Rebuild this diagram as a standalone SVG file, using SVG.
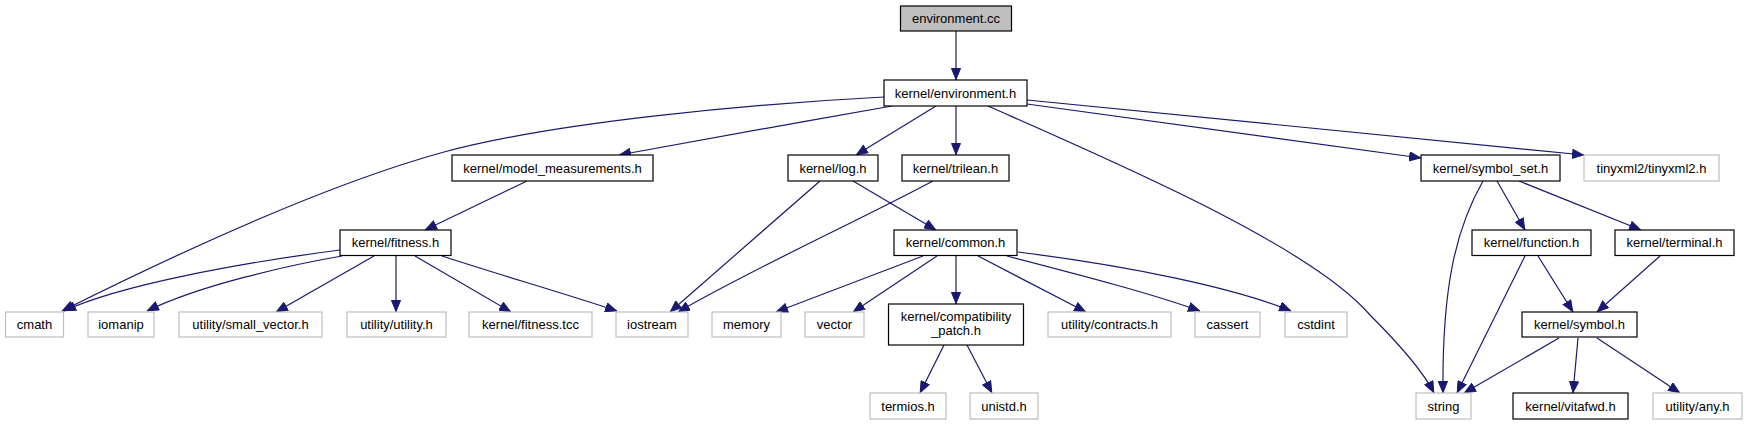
<svg xmlns="http://www.w3.org/2000/svg" width="1747" height="425" viewBox="0 0 1747 425">
<defs>
<style>
.n rect{fill:#fff;stroke:#000;stroke-width:1.2}
.g rect{fill:#fff;stroke:#bfbfbf;stroke-width:1.2}
.r rect{fill:#bfbfbf;stroke:#000;stroke-width:1.2}
text{font-family:"Liberation Sans",Arial,sans-serif;font-size:13px;text-anchor:middle;fill:#000}
.e path{fill:none;stroke:#191970;stroke-width:1.2;marker-end:url(#ah)}
</style>
<marker id="ah" markerUnits="userSpaceOnUse" markerWidth="12" markerHeight="10" viewBox="0 0 12 10" refX="12" refY="5" orient="auto">
<path d="M0.5,0.5 L11.5,5 L0.5,9.5 z" fill="#191970" stroke="#191970" stroke-width="1"/>
</marker>
</defs>
<rect width="1747" height="425" fill="#fff"/>
<g class="e" id="edges">
<path d="M956,31 L956,80"/>
<path d="M884,97 C750,104 555,122 444,152 C320,186 160,262 62,311"/>
<path d="M892,106 C800,122 700,140 619,155"/>
<path d="M936,106 L856,155"/>
<path d="M956,106 L956,155"/>
<path d="M988,106 C1110,160 1310,245 1370,315 C1400,345 1425,375 1434,393"/>
<path d="M1027,104 L1421,158"/>
<path d="M1027,100 L1584,155"/>
<path d="M527,181 L425,230"/>
<path d="M820,181 L670,312"/>
<path d="M853,181 L936,230"/>
<path d="M933,181 C850,225 750,270 678,312"/>
<path d="M340,250 C240,263 120,285 64,311"/>
<path d="M342,256 C290,265 200,285 147,311"/>
<path d="M374,256 L276,312"/>
<path d="M396,256 L396,312"/>
<path d="M415,256 L511,312"/>
<path d="M442,256 C500,275 560,292 617,311"/>
<path d="M923,256 L776,312"/>
<path d="M937,256 L853,312"/>
<path d="M956,256 L956,304"/>
<path d="M978,256 L1086,312"/>
<path d="M1007,256 C1080,275 1150,293 1200,311"/>
<path d="M1018,252 C1130,266 1235,288 1291,311"/>
<path d="M944,345 L920,393"/>
<path d="M967,345 L992,393"/>
<path d="M1483,181 C1455,230 1442,290 1443,393"/>
<path d="M1497,181 L1525,230"/>
<path d="M1519,181 L1641,230"/>
<path d="M1525,256 L1457,393"/>
<path d="M1538,256 L1573,312"/>
<path d="M1660,256 L1597,312"/>
<path d="M1559,338 L1464,393"/>
<path d="M1578,338 L1573,393"/>
<path d="M1597,338 L1680,393"/>
</g>
<g id="n_env_cc" class="r"><rect x="900.5" y="6" width="111" height="25"/><text x="956" y="23">environment.cc</text></g>
<g id="n_env_h" class="n"><rect x="884" y="80" width="143" height="26"/><text x="955.5" y="97.5">kernel/environment.h</text></g>
<g id="n_model" class="n"><rect x="452" y="155" width="201" height="26"/><text x="552.5" y="172.5">kernel/model_measurements.h</text></g>
<g id="n_log" class="n"><rect x="788" y="155" width="90" height="26"/><text x="833" y="172.5">kernel/log.h</text></g>
<g id="n_trilean" class="n"><rect x="902" y="155" width="107" height="26"/><text x="955.5" y="172.5">kernel/trilean.h</text></g>
<g id="n_symset" class="n"><rect x="1421" y="155" width="139" height="26"/><text x="1490.5" y="172.5">kernel/symbol_set.h</text></g>
<g id="n_tinyxml" class="g"><rect x="1584" y="155" width="135" height="26"/><text x="1651.5" y="172.5">tinyxml2/tinyxml2.h</text></g>
<g id="n_fitness" class="n"><rect x="340" y="230" width="111" height="25.5"/><text x="395.5" y="247">kernel/fitness.h</text></g>
<g id="n_common" class="n"><rect x="894" y="230" width="123" height="25.5"/><text x="955.5" y="247">kernel/common.h</text></g>
<g id="n_function" class="n"><rect x="1472" y="230" width="119" height="25.5"/><text x="1531.5" y="247">kernel/function.h</text></g>
<g id="n_terminal" class="n"><rect x="1615" y="230" width="119" height="25.5"/><text x="1674.5" y="247">kernel/terminal.h</text></g>
<g id="n_cmath" class="g"><rect x="5.5" y="312" width="58" height="25"/><text x="34.5" y="329">cmath</text></g>
<g id="n_iomanip" class="g"><rect x="88" y="312" width="66" height="25"/><text x="121" y="329">iomanip</text></g>
<g id="n_smallvec" class="g"><rect x="179" y="312" width="143" height="25"/><text x="250.5" y="329">utility/small_vector.h</text></g>
<g id="n_utility" class="g"><rect x="347" y="312" width="99" height="25"/><text x="396.5" y="329">utility/utility.h</text></g>
<g id="n_fittcc" class="g"><rect x="469" y="312" width="123" height="25"/><text x="530.5" y="329">kernel/fitness.tcc</text></g>
<g id="n_iostream" class="g"><rect x="616" y="312" width="72" height="25"/><text x="652" y="329">iostream</text></g>
<g id="n_memory" class="g"><rect x="712" y="312" width="69" height="25"/><text x="746.5" y="329">memory</text></g>
<g id="n_vector" class="g"><rect x="805" y="312" width="59" height="25"/><text x="834.5" y="329">vector</text></g>
<g id="n_compat" class="n"><rect x="888.5" y="304" width="135" height="41"/><text x="956" y="321">kernel/compatibility</text><text x="956" y="335">_patch.h</text></g>
<g id="n_contracts" class="g"><rect x="1048" y="312" width="123" height="25"/><text x="1109.5" y="329">utility/contracts.h</text></g>
<g id="n_cassert" class="g"><rect x="1195" y="312" width="65" height="25"/><text x="1227.5" y="329">cassert</text></g>
<g id="n_cstdint" class="g"><rect x="1285" y="312" width="62" height="25"/><text x="1316" y="329">cstdint</text></g>
<g id="n_symbol" class="n"><rect x="1522" y="312" width="115" height="25"/><text x="1579.5" y="329">kernel/symbol.h</text></g>
<g id="n_termios" class="g"><rect x="870" y="393" width="76" height="26"/><text x="908" y="410.5">termios.h</text></g>
<g id="n_unistd" class="g"><rect x="970" y="393" width="68" height="26"/><text x="1004" y="410.5">unistd.h</text></g>
<g id="n_string" class="g"><rect x="1416" y="393" width="55" height="26"/><text x="1443.5" y="410.5">string</text></g>
<g id="n_vitafwd" class="n"><rect x="1513" y="393" width="115" height="26"/><text x="1570.5" y="410.5">kernel/vitafwd.h</text></g>
<g id="n_any" class="g"><rect x="1653" y="393" width="89" height="26"/><text x="1697.5" y="410.5">utility/any.h</text></g>
</svg>
